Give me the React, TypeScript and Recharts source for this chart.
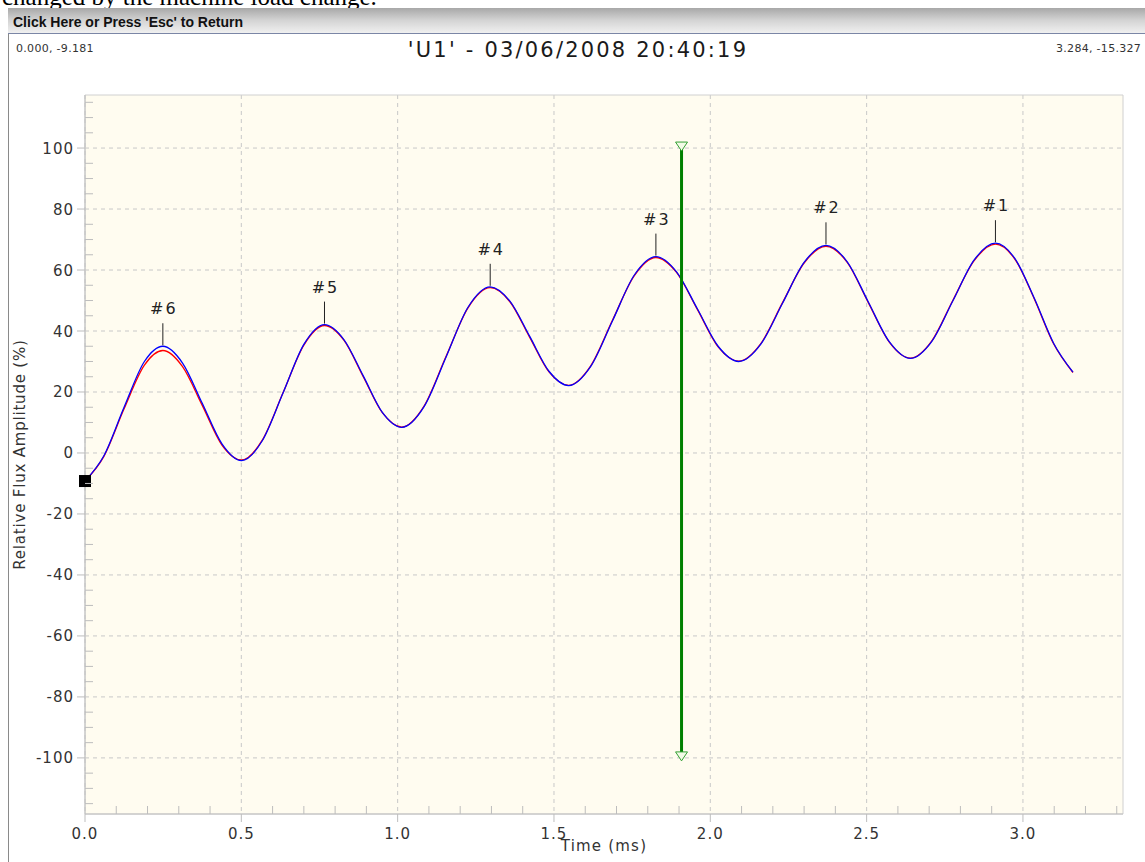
import React from "react";
import {
	CartesianGrid,
	ComposedChart,
	Line,
	ReferenceArea,
	ReferenceDot,
	ReferenceLine,
	XAxis,
	YAxis,
} from "recharts";

// sample times (ms) and the two flux traces (%)
const times = [
	0, 0.06, 0.125, 0.19, 0.249, 0.312, 0.375, 0.438, 0.501, 0.567, 0.634, 0.7, 0.766,
	0.828, 0.89, 0.951, 1.013, 1.084, 1.155, 1.225, 1.296, 1.359, 1.422, 1.484, 1.547,
	1.617, 1.687, 1.756, 1.826, 1.892, 1.959, 2.025, 2.091, 2.161, 2.231, 2.3, 2.37,
	2.438, 2.505, 2.573, 2.64, 2.708, 2.776, 2.844, 2.912, 2.974, 3.036, 3.098, 3.16,
];
const blueAmp = [
	-9.2, -1, 15, 30, 35.0, 29.5, 16.3, 3.0, -2.5, 4.0, 19.8, 35.6, 42.1,
	37.2, 25.3, 13.3, 8.4, 15.1, 31.5, 47.8, 54.5, 49.8, 38.3, 26.8, 22.1,
	28.3, 43.3, 58.2, 64.4, 59.4, 47.2, 35.0, 30.0, 35.6, 49.1, 62.5, 68.1,
	62.7, 49.6, 36.4, 31.0, 36.5, 49.9, 63.3, 68.8, 63.8, 50.8, 36.0, 26.5,
];
const redAmp = [
	-9.2, -1.2, 14.5, 28.8, 33.6, 28.3, 15.6, 2.6, -2.3, 4.2, 19.9, 35.4, 41.8,
	37.0, 25.0, 13.2, 8.5, 15.3, 31.7, 47.6, 54.2, 49.6, 38.0, 26.6, 22.2,
	28.5, 43.5, 58.0, 64.1, 59.2, 47.0, 34.8, 30.1, 35.8, 49.3, 62.3, 67.8,
	62.5, 49.4, 36.3, 31.1, 36.7, 50.1, 63.1, 68.5, 63.6, 50.6, 35.8, 26.4,
];

const peakTimes = [0.249, 0.766, 1.296, 1.826, 2.37, 2.912];
const peakAmps = [35.0, 42.1, 54.5, 64.4, 68.1, 68.8];
const peakNames = ["#6", "#5", "#4", "#3", "#2", "#1"];

const xTicks = [
	0, 0.1, 0.2, 0.3, 0.4, 0.5, 0.6, 0.7, 0.8, 0.9, 1.0, 1.1, 1.2, 1.3, 1.4, 1.5, 1.6,
	1.7, 1.8, 1.9, 2.0, 2.1, 2.2, 2.3, 2.4, 2.5, 2.6, 2.7, 2.8, 2.9, 3.0, 3.1, 3.2, 3.3,
];
const xMajor = [0, 0.5, 1.0, 1.5, 2.0, 2.5, 3.0];
const yTicks = [
	-115, -110, -105, -100, -95, -90, -85, -80, -75, -70, -65, -60, -55, -50, -45, -40,
	-35, -30, -25, -20, -15, -10, -5, 0, 5, 10, 15, 20, 25, 30, 35, 40, 45, 50, 55, 60,
	65, 70, 75, 80, 85, 90, 95, 100, 105, 110, 115,
];
const yMajor = [-100, -80, -60, -40, -20, 0, 20, 40, 60, 80, 100];

const xDomain = [0, 3.32];
const yDomain = [-118.4, 117.4];

const cursorTime = 1.908;
const cursorEnds = [100, -100];
const startTime = 0;
const startAmp = -9.2;

const chartTitle = "'U1' - 03/06/2008 20:40:19";
const cornerLeft = "0.000, -9.181";
const cornerRight = "3.284, -15.327";
const barText = "Click Here or Press 'Esc' to Return";
const aboveText = "changed by the machine load change.";

const rows = times.map((t, i) => ({ t, blue: blueAmp[i], red: redAmp[i] }));

const FONT = "'DejaVu Sans', Verdana, sans-serif";
const TICK = "#bdbdbd";

const isIn = (v: number, list: number[]) => list.some(m => Math.abs(m - v) < 1e-6);

function XTick(props: any) {
	const { x, y, payload } = props;
	const v = payload.value;
	if (isIn(v, xMajor)) {
		return <g>
			<line x1={x} x2={x} y1={y} y2={y + 8} stroke={TICK} />
			<text x={x} y={y + 25} textAnchor="middle" fontFamily={FONT} fontSize={15}
				fill="#333" style={{ letterSpacing: 1 }}>{v.toFixed(1)}</text>
		</g>;
	}
	return <line x1={x} x2={x} y1={y} y2={y - 8} stroke={TICK} />;
}

function YTick(props: any) {
	const { x, y, payload } = props;
	const v = payload.value;
	if (isIn(v, yMajor)) {
		return <g>
			<line x1={x - 8} x2={x} y1={y} y2={y} stroke={TICK} />
			<text x={x - 11} y={y + 5.5} textAnchor="end" fontFamily={FONT} fontSize={15}
				fill="#333" style={{ letterSpacing: 1 }}>{v}</text>
		</g>;
	}
	return <line x1={x} x2={x + 8} y1={y} y2={y} stroke={TICK} />;
}

function YLabel(props: any) {
	const vb = props.viewBox;
	const cy = vb.y + vb.height / 2;
	return <text x={25} y={cy} transform={`rotate(-90, 25, ${cy})`} textAnchor="middle"
		fontFamily={FONT} fontSize={15} fill="#333" style={{ letterSpacing: 0.8 }}>
		Relative Flux Amplitude (%)
	</text>;
}

function XLabel(props: any) {
	const vb = props.viewBox;
	return <text x={vb.x + vb.width / 2} y={vb.y + 37} textAnchor="middle"
		fontFamily={FONT} fontSize={15} fill="#333" style={{ letterSpacing: 1.2 }}>
		Time (ms)
	</text>;
}

function PeakMark(props: { cx: number, cy: number, name: string }) {
	const { cx, cy, name } = props;
	return <g>
		<line x1={cx} x2={cx} y1={cy - 1} y2={cy - 23} stroke="#222" strokeWidth={1} />
		<text x={cx + 1} y={cy - 32} textAnchor="middle" fontFamily={FONT} fontSize={16}
			fill="#222" style={{ letterSpacing: 2 }}>{name}</text>
	</g>;
}

function Triangle(props: any) {
	const { cx, cy } = props;
	return <path d={`M${cx - 6},${cy - 6} L${cx + 6},${cy - 6} L${cx},${cy + 3} Z`}
		fill="#f2fbe6" stroke="#33a033" strokeWidth={1} />;
}

function StartSquare(props: any) {
	const { cx, cy } = props;
	return <rect x={cx - 6} y={cy - 6} width={12} height={12} fill="#000" />;
}

function Frame() {
	return <svg width={1145} height={862} style={{ position: "absolute", left: 0, top: 0, pointerEvents: "none" }}>
		<defs>
			<linearGradient id="bar" x1="0" y1="0" x2="0" y2="1">
				<stop offset="0" stopColor="#a8a8a8" />
				<stop offset="0.5" stopColor="#d4d4d4" />
				<stop offset="1" stopColor="#f0f0f0" />
			</linearGradient>
		</defs>
		<text x={2} y={5} fontFamily="'Liberation Serif', serif" fontSize={25} fill="#000">{aboveText}</text>
		<rect x={8} y={8} width={1137} height={25} fill="url(#bar)" />
		<line x1={8} x2={1145} y1={33.5} y2={33.5} stroke="#7b86a6" />
		<text x={13} y={27} fontFamily="'Liberation Sans', Arial, sans-serif" fontWeight="bold"
			fontSize={14} fill="#111">{barText}</text>
		<line x1={8.5} x2={8.5} y1={34} y2={862} stroke="#8a8a8a" />
		<text x={16} y={52} fontFamily={FONT} fontSize={11} fill="#333" style={{ letterSpacing: 0.3 }}>{cornerLeft}</text>
		<text x={1056} y={52} fontFamily={FONT} fontSize={11} fill="#333" style={{ letterSpacing: 0.3 }}>{cornerRight}</text>
		<text x={578} y={57} textAnchor="middle" fontFamily={FONT} fontSize={21} fill="#1a1a1a"
			style={{ letterSpacing: 2.2 }}>{chartTitle}</text>
	</svg>;
}

function App() {
	return <div style={{ position: "absolute", left: 0, top: 0, width: 1145, height: 862, overflow: "hidden", background: "#fff" }}>
		<ComposedChart width={1145} height={862} data={rows}
			margin={{ top: 95, right: 22, bottom: 8, left: 15 }}>
			<CartesianGrid fill="#fffcf0" stroke="#c8c8c8" strokeDasharray="4 4"
				horizontalValues={yMajor} verticalValues={xMajor} />
			<XAxis type="number" dataKey="t" domain={xDomain} ticks={xTicks} interval={0}
				allowDataOverflow height={40} tickSize={0} tickMargin={0} tick={<XTick />}
				axisLine={{ stroke: "#c0c0c0" }} tickLine={false} label={<XLabel />} />
			<YAxis type="number" domain={yDomain} ticks={yTicks} interval={0}
				allowDataOverflow width={70} tickSize={0} tickMargin={0} tick={<YTick />}
				axisLine={{ stroke: "#c0c0c0" }} tickLine={false} label={<YLabel />} />
			<ReferenceArea x1={xDomain[0]} x2={xDomain[1]} y1={yDomain[0]} y2={yDomain[1]}
				fill="none" stroke="#d0d0d0" />
			<Line dataKey="red" type="monotone" stroke="#ff0000" strokeWidth={1.3} dot={false}
				activeDot={false} isAnimationActive={false} />
			<Line dataKey="blue" type="monotone" stroke="#0000ff" strokeWidth={1.3} dot={false}
				activeDot={false} isAnimationActive={false} />
			{peakTimes.map((t, i) =>
				<ReferenceDot key={peakNames[i]} x={t} y={peakAmps[i]} r={0}
					shape={(p: any) => <PeakMark cx={p.cx} cy={p.cy} name={peakNames[i]} />} />
			)}
			<ReferenceLine segment={[{ x: cursorTime, y: cursorEnds[0] }, { x: cursorTime, y: cursorEnds[1] }]}
				stroke="#008000" strokeWidth={3} />
			{cursorEnds.map(v =>
				<ReferenceDot key={v} x={cursorTime} y={v} r={0} shape={(p: any) => <Triangle {...p} />} />
			)}
			<ReferenceDot x={startTime} y={startAmp} r={0} shape={(p: any) => <StartSquare {...p} />} />
		</ComposedChart>
		<Frame />
	</div>;
}

export default App;
